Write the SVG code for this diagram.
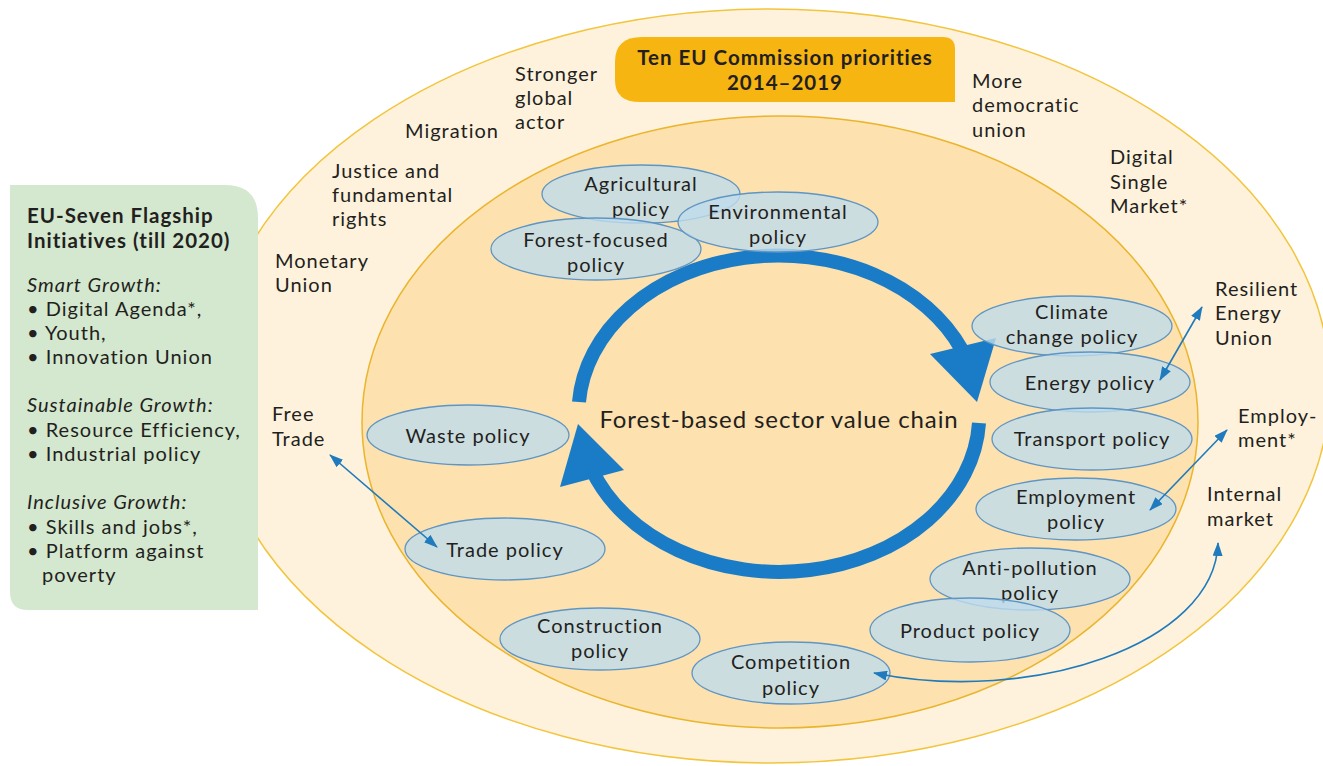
<svg xmlns="http://www.w3.org/2000/svg" width="1323" height="766" viewBox="0 0 1323 766">
  <style>
    text { font-family: Lato, "Open Sans", "DejaVu Sans", sans-serif; fill: #231f20; }
    .lbl { font-size: 20px; letter-spacing: 1px; }
    .fl { font-size: 20px; letter-spacing: 1px; }
    .pol { font-size: 20px; letter-spacing: 1px; text-anchor: middle; }
    .hd { font-size: 20.5px; font-weight: 700; letter-spacing: 1px; }
    .it { font-style: italic; }
    .policy { fill: #bfdcec; fill-opacity: 0.8; stroke: #5f95c2; stroke-width: 1.3; }
    .link { fill: none; stroke: #1f7bbd; stroke-width: 1.6; }
  </style>
  <defs>
    <marker id="tip" viewBox="0 0 14 10" refX="13" refY="5" markerWidth="14" markerHeight="10" markerUnits="userSpaceOnUse" orient="auto-start-reverse">
      <path d="M0,0 L14,5 L0,10 z" fill="#1f7bbd"/>
    </marker>
  </defs>

  <rect width="1323" height="766" fill="#ffffff"/>

  <!-- outer ring: Commission priorities -->
  <g id="priorities-ring">
    <ellipse cx="770" cy="386" rx="560" ry="377" fill="#fef2dc" stroke="#f2c53d" stroke-width="1.5"/>
  </g>

  <!-- inner area: policy fields -->
  <g id="policy-area">
    <ellipse cx="780" cy="422" rx="418" ry="306" fill="#fde1ae" stroke="#eab52c" stroke-width="1.5"/>
  </g>

  <!-- Flagship initiatives panel -->
  <g id="flagship">
    <path d="M10,185 H225 Q258,185 258,218 V610 H28 Q10,610 10,592 Z" fill="#d4e8cf"/>
    <text class="hd" x="27" y="223">EU-Seven Flagship</text>
    <text class="hd" x="27" y="248">Initiatives (till 2020)</text>
    <text class="fl it" x="27" y="292">Smart Growth:</text>
    <text class="fl" x="27" y="316">• Digital Agenda*,</text>
    <text class="fl" x="27" y="340">• Youth,</text>
    <text class="fl" x="27" y="364">• Innovation Union</text>
    <text class="fl it" x="27" y="412">Sustainable Growth:</text>
    <text class="fl" x="27" y="437">• Resource Efficiency,</text>
    <text class="fl" x="27" y="461">• Industrial policy</text>
    <text class="fl it" x="27" y="509">Inclusive Growth:</text>
    <text class="fl" x="27" y="534">• Skills and jobs*,</text>
    <text class="fl" x="27" y="558">• Platform against</text>
    <text class="fl" x="42" y="582">poverty</text>
  </g>

  <!-- Commission priorities title -->
  <g id="priorities-title">
    <path d="M642,37 H943 Q955,37 955,49 V102 H640 Q615,102 615,80 V62 Q615,37 642,37 Z" fill="#f7b512"/>
    <text class="hd" x="785" y="65" text-anchor="middle">Ten EU Commission priorities</text>
    <text class="hd" x="785" y="90" text-anchor="middle">2014–2019</text>
  </g>

  <!-- priority labels -->
  <g id="prio-stronger-global-actor">
    <text class="lbl" x="515" y="81">Stronger</text>
    <text class="lbl" x="515" y="105">global</text>
    <text class="lbl" x="515" y="129">actor</text>
  </g>
  <g id="prio-migration"><text class="lbl" x="405" y="138">Migration</text></g>
  <g id="prio-justice">
    <text class="lbl" x="332" y="178">Justice and</text>
    <text class="lbl" x="332" y="202">fundamental</text>
    <text class="lbl" x="332" y="226">rights</text>
  </g>
  <g id="prio-monetary-union">
    <text class="lbl" x="275" y="268">Monetary</text>
    <text class="lbl" x="275" y="292">Union</text>
  </g>
  <g id="prio-democratic-union">
    <text class="lbl" x="972" y="88">More</text>
    <text class="lbl" x="972" y="112">democratic</text>
    <text class="lbl" x="972" y="137">union</text>
  </g>
  <g id="prio-digital-single-market">
    <text class="lbl" x="1110" y="164">Digital</text>
    <text class="lbl" x="1110" y="189">Single</text>
    <text class="lbl" x="1110" y="213">Market*</text>
  </g>
  <g id="prio-energy-union">
    <text class="lbl" x="1215" y="296">Resilient</text>
    <text class="lbl" x="1215" y="320">Energy</text>
    <text class="lbl" x="1215" y="345">Union</text>
  </g>
  <g id="prio-employment">
    <text class="lbl" x="1238" y="423">Employ-</text>
    <text class="lbl" x="1238" y="447">ment*</text>
  </g>
  <g id="prio-internal-market">
    <text class="lbl" x="1207" y="501">Internal</text>
    <text class="lbl" x="1207" y="526">market</text>
  </g>
  <g id="prio-free-trade">
    <text class="lbl" x="272" y="421">Free</text>
    <text class="lbl" x="272" y="446">Trade</text>
  </g>

  <!-- value chain cycle -->
  <g id="value-chain">
    <path d="M579,402 A200,157 0 0 1 962,350" fill="none" stroke="#1a7cc6" stroke-width="14"/>
    <polygon points="930,354 996,338 977,402" fill="#1a7cc6"/>
    <path d="M979,423 A200,157 0 0 1 592,470" fill="none" stroke="#1a7cc6" stroke-width="14"/>
    <polygon points="560,487 578,424 624,470" fill="#1a7cc6"/>
    <text x="779" y="428" font-size="24" letter-spacing="0.9" text-anchor="middle">Forest-based sector value chain</text>
  </g>

  <!-- policy nodes -->
  <g id="agricultural-policy">
    <ellipse class="policy" cx="641" cy="194" rx="99" ry="29"/>
    <text class="pol" x="641" y="191">Agricultural</text>
    <text class="pol" x="641" y="216">policy</text>
  </g>
  <g id="forest-focused-policy">
    <ellipse class="policy" cx="596" cy="249" rx="105" ry="31"/>
    <text class="pol" x="596" y="247">Forest-focused</text>
    <text class="pol" x="596" y="272">policy</text>
  </g>
  <g id="environmental-policy">
    <ellipse class="policy" cx="778" cy="222" rx="100" ry="30"/>
    <text class="pol" x="778" y="219">Environmental</text>
    <text class="pol" x="778" y="244">policy</text>
  </g>
  <g id="climate-change-policy">
    <ellipse class="policy" cx="1072" cy="326" rx="100" ry="30"/>
    <text class="pol" x="1072" y="319">Climate</text>
    <text class="pol" x="1072" y="344">change policy</text>
  </g>
  <g id="energy-policy">
    <ellipse class="policy" cx="1090" cy="382" rx="100" ry="30"/>
    <text class="pol" x="1090" y="390">Energy policy</text>
  </g>
  <g id="transport-policy">
    <ellipse class="policy" cx="1092" cy="439" rx="100" ry="31"/>
    <text class="pol" x="1092" y="446">Transport policy</text>
  </g>
  <g id="employment-policy">
    <ellipse class="policy" cx="1076" cy="509" rx="100" ry="31"/>
    <text class="pol" x="1076" y="504">Employment</text>
    <text class="pol" x="1076" y="529">policy</text>
  </g>
  <g id="waste-policy">
    <ellipse class="policy" cx="468" cy="435" rx="101" ry="30"/>
    <text class="pol" x="468" y="443">Waste policy</text>
  </g>
  <g id="trade-policy">
    <ellipse class="policy" cx="505" cy="549" rx="100" ry="31"/>
    <text class="pol" x="505" y="557">Trade policy</text>
  </g>
  <g id="anti-pollution-policy">
    <ellipse class="policy" cx="1030" cy="579" rx="100" ry="31"/>
    <text class="pol" x="1030" y="575">Anti-pollution</text>
    <text class="pol" x="1030" y="600">policy</text>
  </g>
  <g id="product-policy">
    <ellipse class="policy" cx="970" cy="630" rx="100" ry="32"/>
    <text class="pol" x="970" y="638">Product policy</text>
  </g>
  <g id="construction-policy">
    <ellipse class="policy" cx="600" cy="639" rx="100" ry="31"/>
    <text class="pol" x="600" y="633">Construction</text>
    <text class="pol" x="600" y="658">policy</text>
  </g>
  <g id="competition-policy">
    <ellipse class="policy" cx="791" cy="673" rx="99" ry="31"/>
    <text class="pol" x="791" y="669">Competition</text>
    <text class="pol" x="791" y="695">policy</text>
  </g>

  <!-- links between policies and priorities -->
  <g id="connectors">
    <line class="link" x1="330" y1="455" x2="437" y2="547" marker-start="url(#tip)" marker-end="url(#tip)"/>
    <line class="link" x1="1202" y1="307" x2="1160" y2="380" marker-start="url(#tip)" marker-end="url(#tip)"/>
    <line class="link" x1="1227" y1="430" x2="1150" y2="510" marker-start="url(#tip)" marker-end="url(#tip)"/>
    <path class="link" d="M1218,543 C1215,645 1030,705 874,673" marker-start="url(#tip)" marker-end="url(#tip)"/>
  </g>
</svg>
